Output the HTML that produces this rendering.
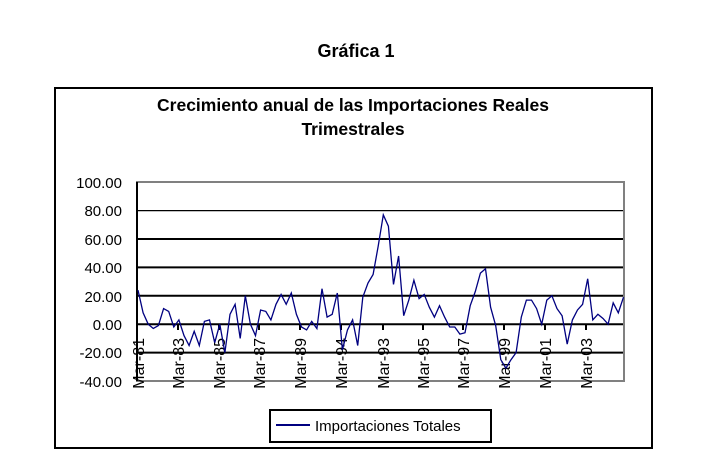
<!DOCTYPE html>
<html><head><meta charset="utf-8"><style>
html,body{margin:0;padding:0;background:#fff;}
svg{display:block;font-family:"Liberation Sans",Arial,sans-serif;}
</style></head><body>
<svg width="717" height="471" viewBox="0 0 717 471" xmlns="http://www.w3.org/2000/svg">
<rect width="717" height="471" fill="#fff"/>
<text x="356" y="57" text-anchor="middle" font-size="18" font-weight="bold">Gráfica 1</text>
<rect x="55" y="88" width="597" height="360" fill="none" stroke="#000" stroke-width="2"/>
<text x="353" y="111" text-anchor="middle" font-size="17.5" font-weight="bold">Crecimiento anual de las Importaciones Reales</text>
<text x="353" y="135" text-anchor="middle" font-size="17.5" font-weight="bold">Trimestrales</text>
<g stroke="#000" stroke-width="2">
<line x1="137" x2="624" y1="210.6" y2="210.6" stroke-width="1.2"/>
<line x1="137" x2="624" y1="239" y2="239"/>
<line x1="137" x2="624" y1="267.4" y2="267.4"/>
<line x1="137" x2="624" y1="295.8" y2="295.8"/>
<line x1="137" x2="624" y1="324.2" y2="324.2"/>
<line x1="137" x2="624" y1="352.6" y2="352.6"/>
</g>
<rect x="137" y="182" width="487" height="199" fill="none" stroke="#808080" stroke-width="2"/>
<line x1="137" x2="137" y1="182" y2="381" stroke="#000" stroke-width="2"/>
<g stroke="#000" stroke-width="2">
<line x1="178" x2="178" y1="324" y2="330"/><line x1="219" x2="219" y1="324" y2="330"/><line x1="259" x2="259" y1="324" y2="330"/><line x1="300" x2="300" y1="324" y2="330"/><line x1="341" x2="341" y1="324" y2="330"/><line x1="383" x2="383" y1="324" y2="330"/><line x1="423" x2="423" y1="324" y2="330"/><line x1="463" x2="463" y1="324" y2="330"/><line x1="504" x2="504" y1="324" y2="330"/><line x1="545" x2="545" y1="324" y2="330"/><line x1="586" x2="586" y1="324" y2="330"/>
</g>
<g font-size="15" text-anchor="end">
<text x="122" y="188">100.00</text><text x="122" y="216">80.00</text><text x="122" y="245">60.00</text><text x="122" y="273">40.00</text><text x="122" y="302">20.00</text><text x="122" y="330">0.00</text><text x="122" y="358">-20.00</text><text x="122" y="387">-40.00</text>
</g>
<g font-size="16" text-anchor="end">
<text transform="translate(144,338) rotate(-90)">Mar-81</text>
<text transform="translate(184,338) rotate(-90)">Mar-83</text>
<text transform="translate(225,338) rotate(-90)">Mar-85</text>
<text transform="translate(265,338) rotate(-90)">Mar-87</text>
<text transform="translate(306,338) rotate(-90)">Mar-89</text>
<text transform="translate(347,338) rotate(-90)">Mar-94</text>
<text transform="translate(389,338) rotate(-90)">Mar-93</text>
<text transform="translate(429,338) rotate(-90)">Mar-95</text>
<text transform="translate(469,338) rotate(-90)">Mar-97</text>
<text transform="translate(510,338) rotate(-90)">Mar-99</text>
<text transform="translate(551,338) rotate(-90)">Mar-01</text>
<text transform="translate(592,338) rotate(-90)">Mar-03</text>
</g>
<polyline id="s" fill="none" stroke="#000080" stroke-width="1.3" points=""/>
<rect x="270" y="410" width="221" height="32" fill="#fff" stroke="#000" stroke-width="2"/>
<line x1="276" x2="310" y1="425" y2="425" stroke="#000080" stroke-width="2"/>
<text x="315" y="431" font-size="15">Importaciones Totales</text>
<script>
var v=[24,8,0,-3,-1,11,9,-2,3,-8,-15,-5,-15,2,3,-13,0,-20,7,14,-10,20,0,-8,10,9,3,14,21,14,22,7,-2,-4,2,-3,25,5,7,22,-18,-4,3,-15,19,29,35,55,77,69,28,48,6,17,31,18,21,12,5,13,5,-2,-2,-7,-6,13,23,36,39,12,-1,-25,-31,-25,-20,5,17,17,11,0,17,20,11,6,-14,3,10,14,32,3,7,4,0,15,8,19];
var p=v.map(function(d,i){return (138+i*5.11).toFixed(1)+","+(324.2-d*1.42).toFixed(1);}).join(" ");
document.getElementById("s").setAttribute("points",p);
</script>
</svg>
</body></html>
